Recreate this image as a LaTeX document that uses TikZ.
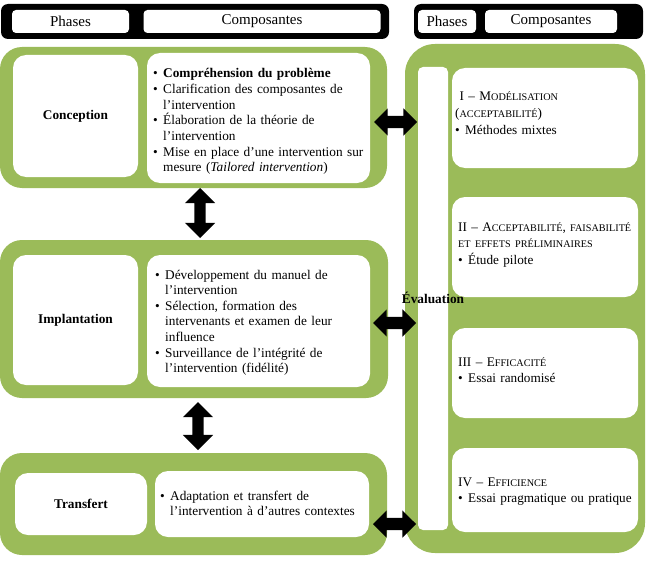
\documentclass[tikz,border=0pt]{standalone}
\usepackage{fontspec}
\setmainfont{Liberation Serif}
\usetikzlibrary{shapes.arrows}
\definecolor{phasegreen}{RGB}{155,187,89}
\newcommand\itm[1]{\hangindent=10pt\hangafter=1\noindent\makebox[10pt][l]{\textbullet}#1\par}
\newcommand\smc[1]{{\fontsize{10.2}{10.5}\selectfont #1}}

\begin{document}
\begin{tikzpicture}[x=1pt,y=-1pt, line cap=round, line join=round]

\tikzset{
  hdr/.style={fill=black, rounded corners=7pt, inner sep=0pt},
  hdrbox/.style={fill=white, rounded corners=4pt, inner sep=0pt, font=\fontsize{15}{16}\selectfont},
  grn/.style={fill=phasegreen, rounded corners=22pt, inner sep=0pt},
  wbox/.style={fill=white, rounded corners=13pt, inner sep=0pt, font=\bfseries\fontsize{13.3}{15.6}\selectfont},
  lst/.style={anchor=base west, inner sep=0pt, text width=#1, align=left, font=\fontsize{13.3}{15.6}\selectfont},
  rlst/.style={anchor=base west, inner sep=0pt, text width=#1, align=left, font=\fontsize{13.2}{16.6}\selectfont},
  dbl/.style={double arrow, fill=black, inner xsep=0pt, inner ysep=6pt, minimum width=27pt, double arrow head extend=7.5pt},
  dblv/.style={double arrow, fill=black, rotate=90, inner xsep=0pt, inner ysep=5.5pt, minimum width=30pt, double arrow head extend=9.5pt},
}

\useasboundingbox (0,0) rectangle (647,567);

% headers
\node[hdr, minimum width=388pt, minimum height=35pt] (hdrL) at (195,21.5) {};
\node[hdrbox, minimum width=117pt, minimum height=23pt] (hPhL) at (70.5,21.5) {Phases};
\node[hdrbox, minimum width=237pt, minimum height=23pt] (hCoL) at (262,21.5) {Composantes};
\node[hdr, minimum width=229pt, minimum height=35pt] (hdrR) at (528.5,21.5) {};
\node[hdrbox, minimum width=58pt, minimum height=23pt] (hPhR) at (447,21.5) {Phases};
\node[hdrbox, minimum width=132pt, minimum height=23pt] (hCoR) at (551,21.5) {Composantes};

% phases (left)
\node[grn, minimum width=387pt, minimum height=141pt] (conc) at (193.5,117.5) {};
\node[grn, minimum width=388pt, minimum height=158pt] (impl) at (194,319) {};
\node[grn, minimum width=387pt, minimum height=102pt] (trans) at (193.5,504) {};

\node[wbox, minimum width=125pt, minimum height=122pt] (concL) at (75.5,116) {Conception};
\node[wbox, minimum width=223pt, minimum height=130pt] (concC) at (258.5,118) {};
\node[wbox, minimum width=125pt, minimum height=130pt] (implL) at (75.5,320) {Implantation};
\node[wbox, minimum width=223pt, minimum height=132pt] (implC) at (258.5,321) {};
\node[wbox, minimum width=132pt, minimum height=62pt] (transL) at (81,504) {Transfert};
\node[wbox, minimum width=214pt, minimum height=66pt] (transC) at (262,504) {};

\node[lst=215pt] (concT) at (153,78) {%
  \itm{\textbf{Compréhension du problème}}
  \itm{Clarification des composantes de\newline l’intervention}
  \itm{Élaboration de la théorie de\newline l’intervention}
  \itm{Mise en place d’une intervention sur\newline mesure (\textit{Tailored intervention})}};
\node[lst=212pt] (implT) at (155,279) {%
  \itm{Développement du manuel de\newline l’intervention}
  \itm{Sélection, formation des\newline intervenants et examen de leur\newline influence}
  \itm{Surveillance de l’intégrité de\newline l’intervention (fidélité)}};
\node[lst=205pt] (transT) at (160,500) {%
  \itm{Adaptation et transfert de\newline l’intervention à d’autres contextes}};

% evaluation (right)
\node[grn, rounded corners=30pt, minimum width=240pt, minimum height=509pt] (evalG) at (525,298.5) {};
\node[fill=white, rounded corners=5pt, inner sep=0pt, minimum width=30pt, minimum height=463pt] (evalS) at (433,298.5) {};
\node[wbox, minimum width=186pt, minimum height=100pt] (compI) at (545,118) {};
\node[wbox, minimum width=186pt, minimum height=100pt] (compII) at (545,247) {};
\node[wbox, minimum width=186pt, minimum height=90pt] (compIII) at (545,373) {};
\node[wbox, minimum width=186pt, minimum height=84pt] (compIV) at (545,490) {};

\node[font=\bfseries\fontsize{13.3}{15.6}\selectfont, inner sep=0pt] (evalT) at (433,298) {Évaluation};

\node[rlst=182pt] (textI) at (455,101) {%
  \ I – M\smc{ODÉLISATION}\newline (\smc{ACCEPTABILITÉ})\par
  \itm{Méthodes mixtes}};
\node[rlst=182pt] (textII) at (458,231) {%
  II – A\smc{CCEPTABILITÉ}, \smc{FAISABILITÉ}\newline \smc{ET EFFETS PRÉLIMINAIRES}\par
  \itm{Étude pilote}};
\node[rlst=180pt] (textIII) at (458,366) {%
  III – E\smc{FFICACITÉ}\par
  \itm{Essai randomisé}};
\node[rlst=180pt] (textIV) at (458,486) {%
  IV – E\smc{FFICIENCE}\par
  \itm{Essai pragmatique ou pratique}};

% double arrows
\node[dbl, minimum height=43pt] (arrC) at (395.5,122) {};
\node[dbl, minimum height=43pt] (arrI) at (394.5,323) {};
\node[dbl, minimum height=43pt] (arrT) at (394.5,524) {};
\node[dblv, minimum height=50pt] (arrCI) at (200,213) {};
\node[dblv, minimum height=48pt] (arrIT) at (198,426) {};

\end{tikzpicture}
\end{document}
